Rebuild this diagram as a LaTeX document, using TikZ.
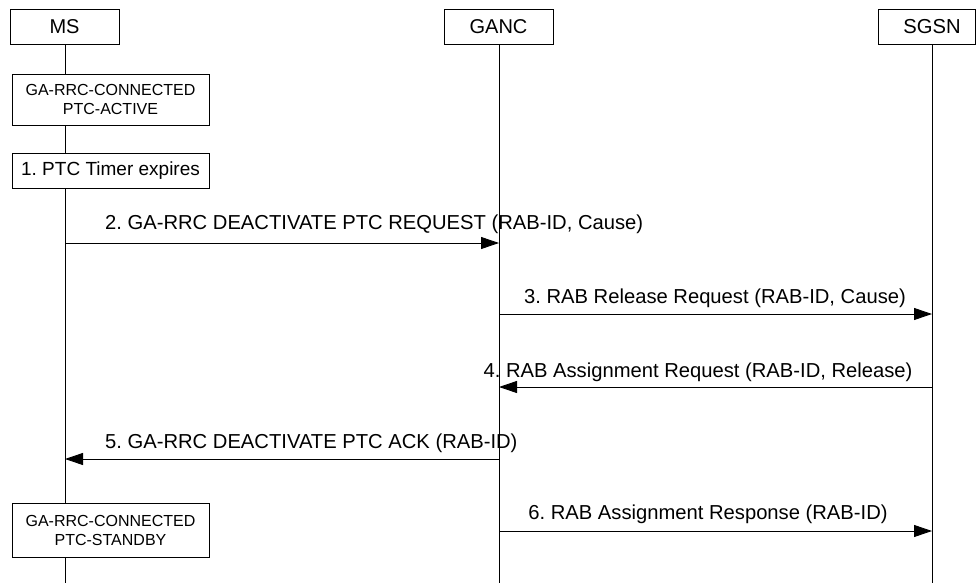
\documentclass[tikz,border=0pt]{standalone}
\usepackage{fontspec}
\setmainfont{Liberation Sans}
\usetikzlibrary{arrows.meta}
\frenchspacing
\begin{document}
\begin{tikzpicture}[x=1pt,y=-1pt,
  entity/.style={draw,fill=white,line width=0.9pt,inner sep=0pt,minimum height=35pt,font=\fontsize{20}{24}\selectfont},
  statebox/.style={draw,fill=white,line width=0.9pt,inner sep=0pt,minimum width=197pt,align=center},
  life/.style={line width=0.9pt},
  msg/.style={line width=0.9pt,-{Triangle[length=18pt,width=12pt]}},
  lbl/.style={inner sep=0pt,font=\fontsize{20.2}{24}\selectfont}]
\useasboundingbox (0,0) rectangle (976,583);
% lifeline end points
\coordinate (msEnd) at (65,583);
\coordinate (gancEnd) at (499,583);
\coordinate (sgsnEnd) at (932,583);
\draw[life] (65,44) -- (msEnd);
\draw[life] (499,44) -- (gancEnd);
\draw[life] (932,44) -- (sgsnEnd);
% entities
\node[entity,minimum width=109pt] (ms) at (64.5,26.5) {MS};
\node[entity,minimum width=109pt] (ganc) at (498.5,26.5) {GANC};
\draw[line width=0.9pt,fill=white] (878,9) rectangle (975,44);
\node[lbl,anchor=center] (sgsn) at (932,26.5) {SGSN};
% state boxes
\node[statebox,minimum height=51pt,font=\fontsize{16}{19}\selectfont] (st1) at (110.5,99.5) {GA-RRC-CONNECTED\\PTC-ACTIVE};
\node[statebox,minimum height=35pt,font=\fontsize{19}{22}\selectfont] (timer) at (110.5,170.5) {1. PTC Timer expires};
\node[statebox,minimum height=54pt,font=\fontsize{16}{19}\selectfont] (st2) at (110.5,530) {GA-RRC-CONNECTED\\PTC-STANDBY};
% message endpoints
\coordinate (m2a) at (65,243);  \coordinate (m2b) at (499,243);
\coordinate (m3a) at (499,314); \coordinate (m3b) at (932,314);
\coordinate (m4a) at (932,387); \coordinate (m4b) at (499,387);
\coordinate (m5a) at (499,459); \coordinate (m5b) at (65,459);
\coordinate (m6a) at (499,531); \coordinate (m6b) at (932,531);
\draw[msg] (m2a) -- (m2b);
\draw[msg] (m3a) -- (m3b);
\draw[msg] (m4a) -- (m4b);
\draw[msg] (m5a) -- (m5b);
\draw[msg] (m6a) -- (m6b);
% labels
\node[lbl,anchor=base west] (l2) at (105,229) {2. GA-RRC DEACTIVATE PTC REQUEST (RAB-ID, Cause)};
\node[lbl,anchor=base] (l3) at (715,303) {3. RAB Release Request (RAB-ID, Cause)};
\node[lbl,anchor=base] (l4) at (698,377) {4. RAB Assignment Request (RAB-ID, Release)};
\node[lbl,anchor=base west] (l5) at (105,448) {5. GA-RRC DEACTIVATE PTC ACK (RAB-ID)};
\node[lbl,anchor=base] (l6) at (708,519) {6. RAB Assignment Response (RAB-ID)};
\end{tikzpicture}
\end{document}
